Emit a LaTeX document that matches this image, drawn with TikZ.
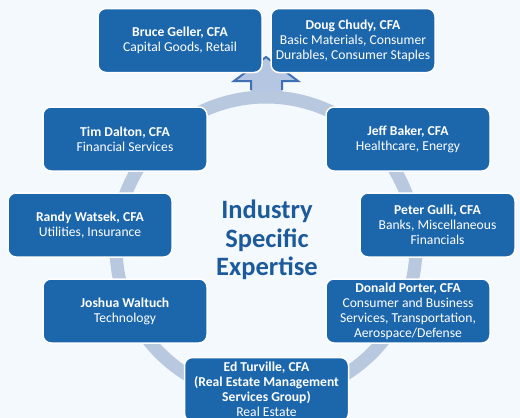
\documentclass[tikz,border=0pt]{standalone}
\usepackage{fontspec}
\setmainfont{Carlito}
\usepackage{tikz}
\usepackage{xcolor}
\usetikzlibrary{positioning}

\definecolor{pagebg}{HTML}{F4F9FE}
\definecolor{boxblue}{HTML}{1C66AC}
\definecolor{ringblue}{HTML}{B8C8DE}
\definecolor{arrowfill}{HTML}{B4C6E2}
\definecolor{arrowline}{HTML}{3F70B4}
\definecolor{titleblue}{HTML}{1C5A9C}

\begin{document}
\begin{tikzpicture}[x=1pt, y=-1pt,
    expert/.style={draw=white, line width=1.5pt, fill=boxblue, rounded corners=8pt,
      minimum width=164pt, minimum height=64pt, align=center, text=white,
      font=\fontsize{13.6}{15}\selectfont, inner sep=2pt}]
        % page
        \fill[pagebg] (0,0) rectangle (520,418);
        \useasboundingbox (0,0) rectangle (520,418);
        % ring and arrow
        \draw[ringblue, line width=13pt] (266,247) circle[radius=150pt];
        \fill[arrowfill] (251,92) -- (251,81) -- (234,81) -- (266,57) -- (298,81) -- (282,81) -- (282,92) -- cycle;
        \draw[arrowline, line width=2pt, line join=miter] (251,90) -- (251,81) -- (234,81) -- (266,57) -- (298,81) -- (282,81) -- (282,90);
        % title
        \node[text=titleblue, font=\fontsize{26.5}{28.5}\selectfont\bfseries, align=center] (title) at (267,240) {Industry\\Specific\\Expertise};
        % analysts
        \node[expert] (bruce) at (180,40.5) {\textbf{Bruce Geller, CFA}\\Capital Goods, Retail};
        \node[expert] (doug) at (353,40.5) {\textbf{Doug Chudy, CFA}\\Basic Materials, Consumer\\Durables, Consumer Staples};
        \node[expert] (tim) at (125,139) {\textbf{Tim Dalton, CFA}\\Financial Services};
        \node[expert] (jeff) at (408,139) {\textbf{Jeff Baker, CFA}\\Healthcare, Energy};
        \node[expert] (randy) at (90,225) {\textbf{Randy Watsek, CFA}\\Utilities, Insurance};
        \node[expert, minimum width=155pt] (peter) at (437.5,225) {\textbf{Peter Gulli, CFA}\\Banks, Miscellaneous\\Financials};
        \node[expert] (joshua) at (125,311) {\textbf{Joshua Waltuch}\\Technology};
        \node[expert] (donald) at (408,311) {\textbf{Donald Porter, CFA}\\Consumer and Business\\Services, Transportation,\\Aerospace/Defense};
        \node[expert] (ed) at (266.5,389.5) {\textbf{Ed Turville, CFA}\\\textbf{(Real Estate Management}\\\textbf{Services Group)}\\Real Estate};
      \end{tikzpicture}
\end{document}
